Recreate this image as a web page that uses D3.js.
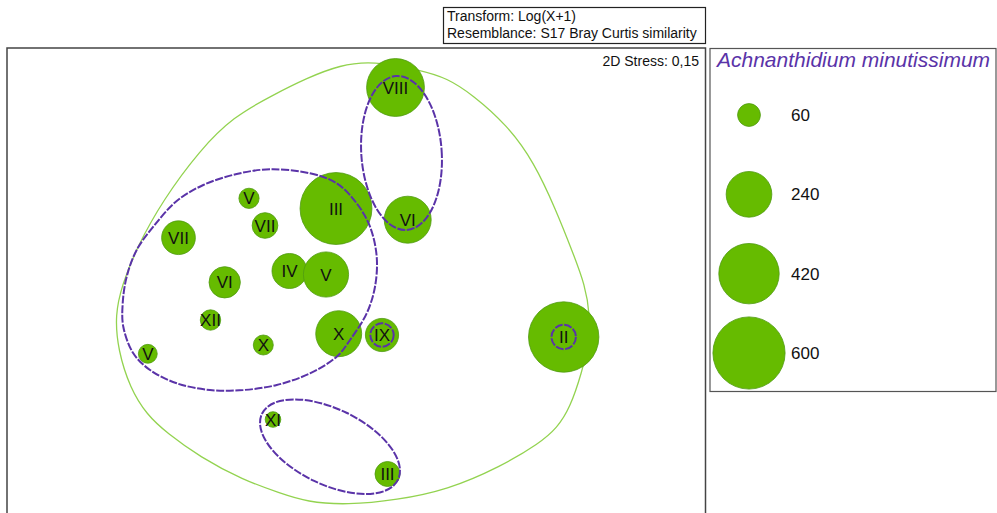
<!DOCTYPE html>
<html><head><meta charset="utf-8">
<script src="https://cdn.jsdelivr.net/npm/d3@7"></script>
<style>
body{margin:0;background:#fff}
svg{display:block}
text{font-family:"Liberation Sans",Arial,Helvetica,sans-serif}
</style>
</head><body>
<svg id="c" width="997" height="513"></svg>
<script>
// ---- data (MDS coordinates) ----
const sampleLabels = ["VIII","VI","III","V","VII","VII","VI","IV","V","XII","X","X","IX","V","II","XI","III"];
const sampleX      = [0.395,0.517,-0.20,-1.07,-0.91,-1.775,-1.313,-0.665,-0.30,-1.455,-0.927,-0.173,0.26,-2.082,2.077,-0.83,0.315];
const sampleY      = [1.925,0.603,0.715,0.817,0.545,0.423,-0.023,0.09,0.055,-0.40,-0.65,-0.537,-0.55,-0.738,-0.57,-1.395,-1.94];
const abundance    = [385,254,595,47,76,131,113,141,235,48,46,243,127,41,570,28,72];

const legendValues = [60,240,420,600];
const legendTitle  = "Achnanthidium minutissimum";
const stressText   = "2D Stress: 0,15";
const headerLines  = ["Transform: Log(X+1)","Resemblance: S17 Bray Curtis similarity"];

// outer similarity contour (green)
const outerX = [0.17,0.64,0.91,1.17,1.51,1.78,2.00,2.17,2.29,2.34,2.33,2.26,2.14,2.01,1.84,1.44,0.91,0.41,-0.09,-0.49,-0.76,-1.13,-1.56,-1.89,-2.09,-2.26,-2.38,-2.41,-2.34,-2.19,-1.93,-1.56,-1.23,-0.83,-0.49,-0.16];
const outerY = [2.19,2.10,2.02,1.85,1.55,1.18,0.70,0.27,-0.05,-0.35,-0.62,-0.92,-1.28,-1.48,-1.63,-1.87,-2.10,-2.20,-2.25,-2.22,-2.13,-2.00,-1.77,-1.53,-1.35,-1.08,-0.70,-0.35,-0.05,0.33,0.80,1.30,1.63,1.85,2.02,2.15];

// inner similarity contour (purple, big group)
const groupX = [-0.86,-0.46,-0.193,0.007,0.14,0.207,0.19,0.107,-0.06,-0.193,-0.46,-0.793,-1.127,-1.46,-1.793,-2.06,-2.227,-2.327,-2.333,-2.293,-2.193,-2.027,-1.793,-1.527,-1.193];
const groupY = [1.107,1.067,0.967,0.767,0.533,0.233,-0.067,-0.333,-0.60,-0.767,-0.933,-1.05,-1.10,-1.10,-1.033,-0.90,-0.733,-0.467,-0.233,0.033,0.30,0.533,0.79,0.95,1.06];

// other purple contours as ellipses
const ellCX    = [0.455,-0.26,2.077,0.26];
const ellCY    = [1.27,-1.667,-0.57,-0.55];
const ellRX    = [0.402,0.756,0.122,0.117];
const ellRY    = [0.771,0.377,0.122,0.117];
const ellAngle = [-4,25.85,0,0];

// ---- drawing ----
const svg = d3.select("#c");
const green = "#66bb00", greenStroke = "#4f9a12", purple = "#5a33a8";

const x = d3.scaleLinear().domain([-3.5,3.5]).range([6,706]);
const y = d3.scaleLinear().domain([2.33,-2.33]).range([47,513]);
const r = d3.scaleSqrt().domain([0,600]).range([0,36.1]);
const ux = v => x(v) - x(0), uy = v => y(0) - y(v);

// header box
svg.append("rect").attr("x",443.5).attr("y",7.5).attr("width",262).attr("height",36)
  .attr("fill","#fff").attr("stroke","#222").attr("stroke-width",1.2);
svg.selectAll("text.hdr").data(headerLines).join("text").attr("class","hdr")
  .attr("x",447).attr("y",(d,i)=>21+i*16.5).attr("font-size",14).attr("fill","#111").text(d=>d);

// plot frame
svg.append("rect").attr("x",7).attr("y",48).attr("width",698.5).attr("height",480)
  .attr("fill","#fff").attr("stroke","#444").attr("stroke-width",1.5);
// legend frame
svg.append("rect").attr("x",710).attr("y",48.5).attr("width",286).attr("height",343)
  .attr("fill","#fff").attr("stroke","#555").attr("stroke-width",1.2);

svg.append("text").attr("x",699).attr("y",66).attr("text-anchor","end")
  .attr("font-size",14).attr("fill","#111").text(stressText);

const smoothGen = d3.line().x(d=>x(d[0])).y(d=>y(d[1])).curve(d3.curveBasisClosed);
const lineGen = d3.line().x(d=>x(d[0])).y(d=>y(d[1])).curve(d3.curveCatmullRomClosed.alpha(0.5));

// outer green contour
svg.append("path").datum(outerX.map((v,i)=>[v,outerY[i]])).attr("d",smoothGen)
  .attr("fill","none").attr("stroke","#93d350").attr("stroke-width",1.3);

// points
const pts = sampleLabels.map((l,i)=>({l,x:sampleX[i],y:sampleY[i],v:abundance[i]}));
svg.selectAll("circle.pt").data(pts).join("circle").attr("class","pt")
  .attr("cx",d=>x(d.x)).attr("cy",d=>y(d.y)).attr("r",d=>r(d.v))
  .attr("fill",green).attr("stroke",greenStroke).attr("stroke-width",0.8);

// purple contours
svg.append("path").datum(groupX.map((v,i)=>[v,groupY[i]])).attr("d",lineGen)
  .attr("fill","none").attr("stroke",purple).attr("stroke-width",2).attr("stroke-dasharray","8,1.6");
svg.selectAll("ellipse.grp").data(ellCX.map((c,i)=>({cx:c,cy:ellCY[i],rx:ellRX[i],ry:ellRY[i],a:ellAngle[i]})))
  .join("ellipse").attr("class","grp")
  .attr("cx",0).attr("cy",0).attr("rx",d=>ux(d.rx)).attr("ry",d=>uy(d.ry))
  .attr("transform",d=>`translate(${x(d.cx)},${y(d.cy)}) rotate(${d.a})`)
  .attr("fill","none").attr("stroke",purple).attr("stroke-width",2).attr("stroke-dasharray","8,1.6");

// labels
svg.selectAll("text.lab").data(pts).join("text").attr("class","lab")
  .attr("x",d=>x(d.x)).attr("y",d=>y(d.y)).attr("dy","0.36em").attr("text-anchor","middle")
  .attr("font-size",17).attr("fill","#111").text(d=>d.l);

// legend
svg.append("text").attr("x",717).attr("y",67).attr("font-size",21).attr("font-style","italic")
  .attr("fill",purple).text(legendTitle);
const ly = d3.scaleLinear().domain([0,legendValues.length-1]).range([115,353]);
svg.selectAll("circle.leg").data(legendValues).join("circle").attr("class","leg")
  .attr("cx",749).attr("cy",(d,i)=>ly(i)).attr("r",d=>r(d))
  .attr("fill",green).attr("stroke",greenStroke).attr("stroke-width",0.8);
svg.selectAll("text.leg").data(legendValues).join("text").attr("class","leg")
  .attr("x",791).attr("y",(d,i)=>ly(i)).attr("dy","0.36em")
  .attr("font-size",17).attr("fill","#111").text(d=>d);
</script>
</body></html>
